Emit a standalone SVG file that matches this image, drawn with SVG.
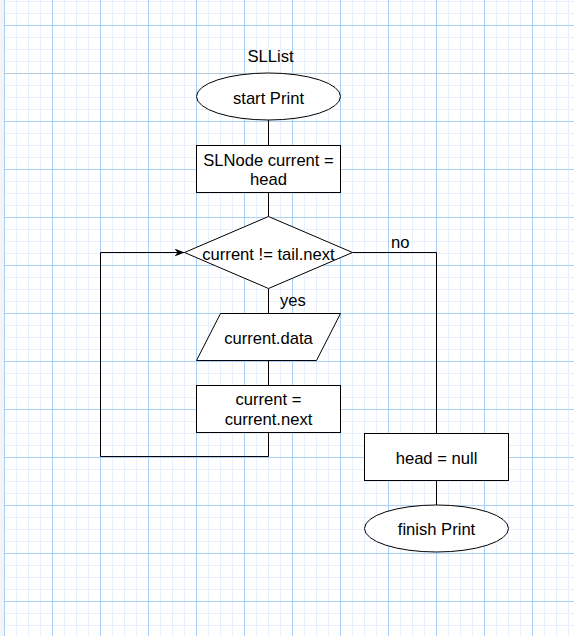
<svg xmlns="http://www.w3.org/2000/svg" width="574" height="636" viewBox="0 0 574 636">
  <defs>
    <!-- fine 12px grid with a heavier line every 48px -->
    <pattern id="minorGrid" x="4" y="1" width="12" height="12" patternUnits="userSpaceOnUse">
      <path d="M0.5 0 V12 M0 0.5 H12" fill="none" stroke="#e6f1fd" stroke-width="1"/>
    </pattern>
    <pattern id="majorGrid" x="4" y="25" width="48" height="48" patternUnits="userSpaceOnUse">
      <path d="M0.5 0 V48 M0 0.5 H48" fill="none" stroke="#a9d1f7" stroke-width="1"/>
    </pattern>
    <marker id="arrow" viewBox="0 0 10 8" refX="10" refY="4" markerWidth="10" markerHeight="8" markerUnits="userSpaceOnUse" orient="auto">
      <path d="M0 0 L10 4 L0 8 L3 4 Z" fill="#000"/>
    </marker>
    <style>
      .shape { fill: #fff; stroke: #000; stroke-width: 1; }
      .edge { fill: none; stroke: #000; stroke-width: 1; }
      text { font-family: "Liberation Sans", Arial, sans-serif; font-size: 16.6px; fill: #000; }
      .c { text-anchor: middle; }
    </style>
  </defs>

  <!-- background grid -->
  <rect width="574" height="636" fill="#fff"/>
  <rect width="574" height="636" fill="url(#minorGrid)"/>
  <rect width="574" height="636" fill="url(#majorGrid)"/>
  <rect x="0" y="0" width="4" height="636" fill="#f4f4f4"/>
  <line x1="4" y1="73.5" x2="574" y2="73.5" stroke="#c2c2c2" stroke-width="1" stroke-dasharray="3 2"/>

  <!-- title -->
  <text class="c" x="270.5" y="62">SLList</text>

  <!-- connectors -->
  <g id="connectors">
    <path class="edge" d="M268.5 120 V145"/>
    <path class="edge" d="M268.5 193 V217"/>
    <path class="edge" d="M268.5 289 V313"/>
    <path class="edge" d="M268.5 361 V385"/>
    <path class="edge" d="M268.5 433 V456.5 H100.5 V252.5 H184.5" marker-end="url(#arrow)"/>
    <path class="edge" d="M352.5 252.5 H436.5 V433"/>
    <path class="edge" d="M436.5 481 V505"/>
    <text x="280" y="306">yes</text>
    <text x="391" y="248">no</text>
  </g>

  <g id="start">
    <ellipse class="shape" cx="268.5" cy="96.5" rx="72" ry="23.5"/>
    <text class="c" x="268.5" y="104">start Print</text>
  </g>

  <g id="init">
    <rect class="shape" x="196.5" y="145.5" width="144" height="47"/>
    <text class="c" x="268.5" y="166">SLNode current =</text>
    <text class="c" x="268.5" y="185">head</text>
  </g>

  <g id="check">
    <path class="shape" d="M268.5 216.5 L352.5 252.5 L268.5 288.5 L184.5 252.5 Z"/>
    <text class="c" x="268.5" y="260">current != tail.next</text>
  </g>

  <g id="output">
    <path class="shape" d="M220.5 313.5 H340.5 L316.5 360.5 H196.5 Z"/>
    <text class="c" x="268.5" y="343.5">current.data</text>
  </g>

  <g id="advance">
    <rect class="shape" x="196.5" y="385.5" width="144" height="47"/>
    <text class="c" x="268.5" y="405">current =</text>
    <text class="c" x="268.5" y="424.5">current.next</text>
  </g>

  <g id="clear">
    <rect class="shape" x="364.5" y="433.5" width="144" height="47"/>
    <text class="c" x="436.5" y="464">head = null</text>
  </g>

  <g id="finish">
    <ellipse class="shape" cx="436.5" cy="528.5" rx="72" ry="23.5"/>
    <text class="c" x="436.5" y="535">finish Print</text>
  </g>
</svg>
